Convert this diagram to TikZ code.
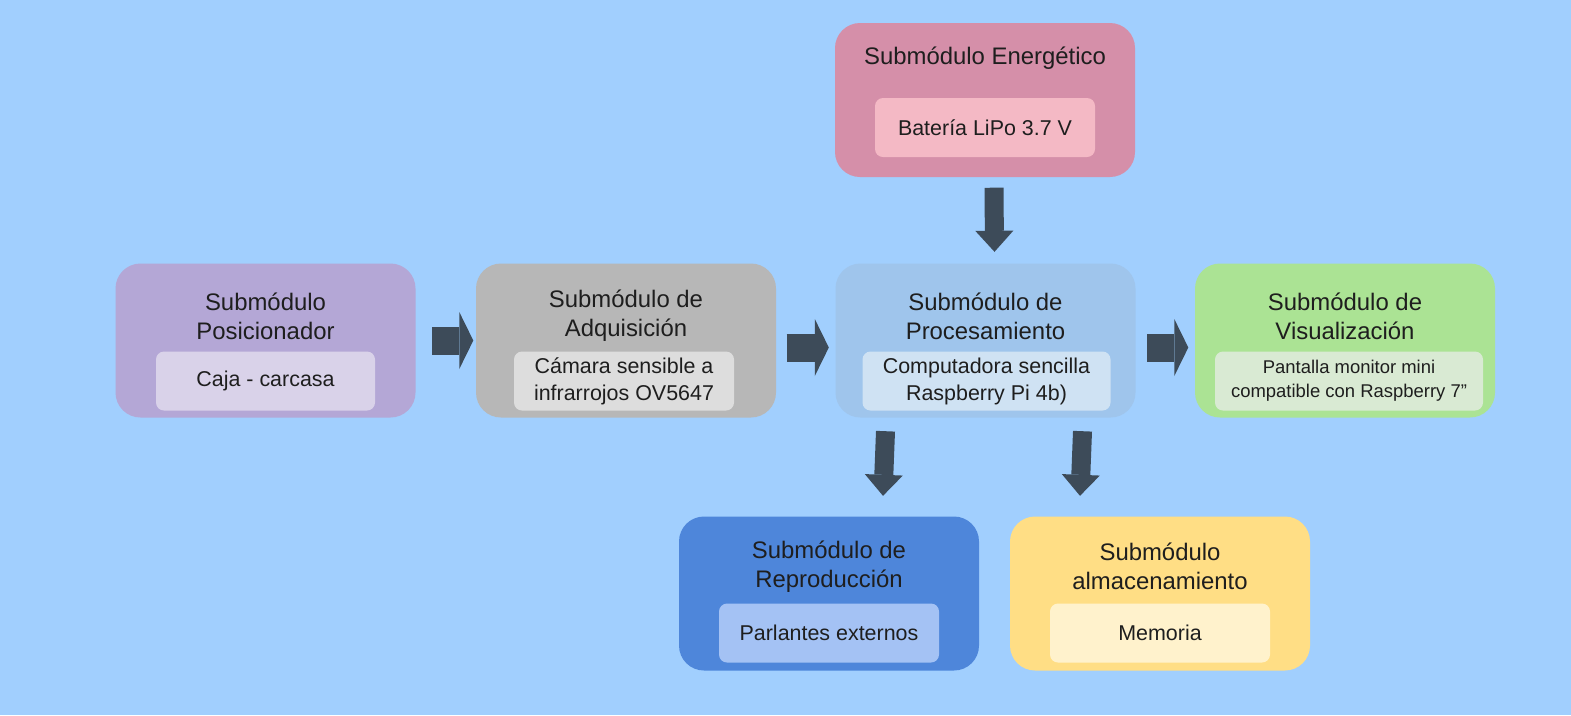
\documentclass[tikz,border=0pt]{standalone}
\usepackage{fontspec}
\setmainfont{Liberation Sans}
\usepackage{xcolor}
\usetikzlibrary{arrows.meta}
\definecolor{fondo}{HTML}{A1CFFE}
\definecolor{flecha}{HTML}{3D4B59}
\definecolor{texto}{HTML}{1E1E1E}
\definecolor{enerA}{HTML}{D58FA9}
\definecolor{enerB}{HTML}{F4B9C5}
\definecolor{posA}{HTML}{B4A7D6}
\definecolor{posB}{HTML}{D9D2E9}
\definecolor{adqA}{HTML}{B7B7B7}
\definecolor{adqB}{HTML}{DDDDDD}
\definecolor{procA}{HTML}{9FC5EC}
\definecolor{procB}{HTML}{CFE2F3}
\definecolor{visA}{HTML}{ABE394}
\definecolor{visB}{HTML}{D9EAD3}
\definecolor{repA}{HTML}{4E86DA}
\definecolor{repB}{HTML}{A4C2F4}
\definecolor{almA}{HTML}{FFDE85}
\definecolor{almB}{HTML}{FFF2CC}
\begin{document}
\begin{tikzpicture}
\tikzstyle{every node}=[text=texto]
\tikzstyle{modulo}=[rectangle, rounded corners=0.25cm, minimum width=3.0cm, minimum height=1.54cm, inner sep=0pt]
\tikzstyle{interno}=[rectangle, rounded corners=0.08cm, minimum width=2.2cm, minimum height=0.59cm, inner sep=0pt, align=center, font=\fontsize{6.1}{7.7}\selectfont]
\tikzstyle{titulo}=[align=center, inner sep=0pt, font=\fontsize{6.8}{8.3}\selectfont]
\tikzstyle{flechaH}=[draw=flecha, line width=0.28cm, -{Triangle[width=0.57cm,length=0.14cm,line width=0pt]}]
\tikzstyle{flechaV}=[draw=flecha, line width=0.19cm, -{Triangle[width=0.38cm,length=0.21cm,line width=0pt]}]
\fill[fondo] (0,0) rectangle (15.71,-7.15);
\useasboundingbox (0,0) rectangle (15.71,-7.15);
% bloques
\node[modulo, fill=enerA] (ener) at (9.85,-1.00) {};
\node[modulo, fill=posA] (pos) at (2.655,-3.405) {};
\node[modulo, fill=adqA] (adq) at (6.26,-3.405) {};
\node[modulo, fill=procA] (proc) at (9.855,-3.405) {};
\node[modulo, fill=visA] (vis) at (13.45,-3.405) {};
\node[modulo, fill=repA] (rep) at (8.29,-5.935) {};
\node[modulo, fill=almA] (alm) at (11.60,-5.935) {};
% titulos
\node[titulo] (enerT) at (9.85,-0.58) {Submódulo Energético};
\node[titulo] (posT) at (2.655,-3.16) {Submódulo\\Posicionador};
\node[titulo] (adqT) at (6.26,-3.16) {Submódulo de\\Adquisición};
\node[titulo] (procT) at (9.855,-3.16) {Submódulo de\\Procesamiento};
\node[titulo] (visT) at (13.45,-3.16) {Submódulo de\\Visualización};
\node[titulo] (repT) at (8.29,-5.665) {Submódulo de\\Reproducción};
\node[titulo] (almT) at (11.60,-5.665) {Submódulo\\almacenamiento};
% componentes
\node[interno, fill=enerB] (bat) at (9.85,-1.275) {Batería LiPo 3.7 V};
\node[interno, fill=posB, minimum width=2.19cm] (caja) at (2.655,-3.81) {Caja - carcasa};
\node[interno, fill=adqB] (cam) at (6.24,-3.81) {Cámara sensible a\\infrarrojos OV5647};
\node[interno, fill=procB, minimum width=2.48cm] (rpi) at (9.865,-3.81) {Computadora sencilla\\Raspberry Pi 4b)};
\node[interno, fill=visB, minimum width=2.68cm, font=\fontsize{5.25}{6.8}\selectfont] (pant) at (13.49,-3.81) {Pantalla monitor mini\\compatible con Raspberry 7\symbol{"22}};
\node[interno, fill=repB] (parl) at (8.29,-6.33) {Parlantes externos};
\node[interno, fill=almB] (mem) at (11.60,-6.33) {Memoria};
% flechas
\draw[flechaV] ([xshift=0.09cm,yshift=-0.10cm]ener.south) -- ([xshift=0.09cm,yshift=0.11cm]proc.north);
\draw[flechaH] ([xshift=0.16cm]pos.east) -- ([xshift=-0.02cm]adq.west);
\draw[flechaH] ([xshift=0.10cm,yshift=-0.07cm]adq.east) -- ([xshift=-0.06cm,yshift=-0.07cm]proc.west);
\draw[flechaH] ([xshift=0.11cm,yshift=-0.07cm]proc.east) -- ([xshift=-0.06cm,yshift=-0.07cm]vis.west);
\draw[flechaV] ([xshift=-1.0cm,yshift=-0.13cm]proc.south) -- ([xshift=0.54cm,yshift=0.20cm]rep.north);
\draw[flechaV] ([xshift=0.97cm,yshift=-0.13cm]proc.south) -- ([xshift=-0.80cm,yshift=0.20cm]alm.north);
\end{tikzpicture}
\end{document}
